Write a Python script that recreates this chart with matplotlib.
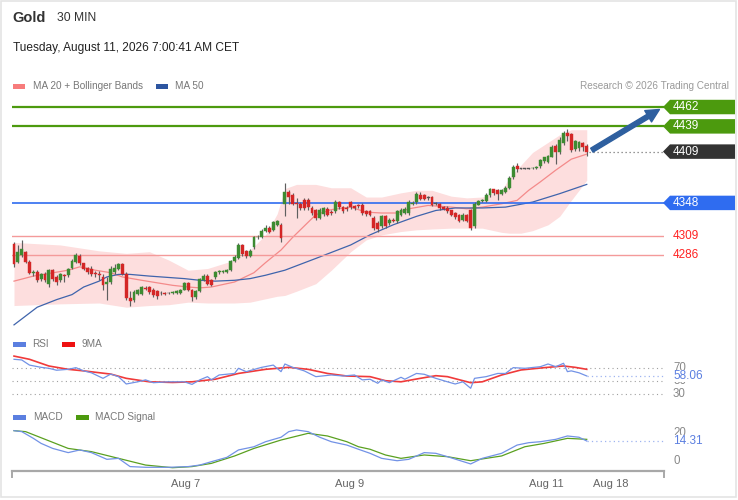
import matplotlib
matplotlib.use('Agg')
import matplotlib.pyplot as plt
from matplotlib.patches import Polygon, Rectangle, FancyArrowPatch
from matplotlib.lines import Line2D
from matplotlib.transforms import blended_transform_factory

plt.rcParams['font.family'] = ['Liberation Sans', 'DejaVu Sans']

# ---------------- data ----------------
opens = [4299,4278,4286,4290,4278,4265,4266,4257,4264,4252,4268,4260,4256,4262,4262,4271,4278,4285,4276,4271,
         4270,4265,4264,4260,4252,4254,4266,4270,4275,4264,4235,4232,4240,4240,4247,4248,4245,4243,4241,4241,
         4241,4241,4241,4241,4245,4253,4245,4236,4243,4256,4261,4256,4260,4266,4266,4266,4268,4279,4282,4298,
         4291,4285,4295,4307,4308,4315,4318,4316,4322,4322,4347,4361,4358,4348,4347,4352,4352,4342,4340,4330,
         4335,4341,4337,4338,4349,4343,4342,4349,4344,4345,4346,4338,4338,4330,4324,4320,4332,4324,4328,4326,
         4334,4336,4336,4347,4349,4358,4357,4354,4355,4347,4347,4343,4342,4339,4336,4334,4328,4334,4340,4320,
         4346,4350,4350,4357,4364,4363,4359,4361,4366,4379,4392,4389,4389,4389,4389,4389,4392,4398,4397,4403,
         4416,4408,4419,4431,4430,4412,4413,4419,4416]
highs = [4302,4298,4304,4291,4280,4268,4268,4265,4266,4270,4269,4262,4265,4264,4271,4281,4289,4287,4277,4272,
         4273,4267,4267,4264,4260,4273,4275,4277,4276,4266,4243,4244,4246,4249,4249,4249,4247,4245,4243,4242,
         4242,4243,4244,4246,4254,4254,4246,4245,4259,4263,4263,4257,4267,4268,4268,4270,4280,4286,4300,4299,
         4292,4293,4309,4310,4317,4322,4320,4327,4328,4324,4372,4363,4360,4354,4349,4354,4354,4344,4341,4342,
         4343,4343,4339,4351,4350,4344,4344,4350,4346,4347,4348,4339,4340,4332,4326,4334,4334,4330,4330,4340,
         4342,4343,4351,4350,4361,4361,4359,4356,4356,4349,4348,4344,4344,4340,4337,4335,4336,4335,4341,4349,
         4352,4353,4360,4366,4365,4365,4365,4368,4380,4393,4396,4390,4390,4390,4391,4392,4400,4403,4405,4417,
         4418,4426,4434,4436,4431,4423,4422,4421,4418]
lows = [4272,4276,4284,4276,4263,4261,4254,4255,4254,4248,4255,4250,4254,4254,4260,4269,4276,4274,4268,4264,
        4261,4260,4256,4244,4232,4252,4264,4268,4262,4233,4225,4230,4238,4238,4244,4240,4236,4234,4238,4239,
        4240,4240,4240,4240,4244,4243,4231,4234,4242,4255,4250,4249,4258,4264,4265,4265,4267,4278,4281,4285,
        4283,4284,4293,4305,4306,4313,4312,4315,4320,4302,4332,4347,4345,4330,4340,4340,4340,4334,4328,4329,
        4333,4332,4334,4336,4341,4336,4338,4341,4340,4342,4334,4333,4332,4316,4314,4318,4318,4322,4325,4324,
        4333,4335,4334,4346,4347,4351,4351,4351,4344,4345,4340,4339,4336,4332,4329,4325,4326,4325,4316,4318,
        4345,4349,4349,4355,4358,4352,4357,4360,4365,4377,4385,4388,4388,4388,4388,4388,4390,4396,4396,4402,
        4394,4406,4417,4422,4409,4410,4410,4410,4404]
closes = [4275,4290,4293,4278,4265,4266,4256,4263,4256,4268,4257,4254,4263,4261,4270,4279,4286,4276,4270,4266,
          4263,4264,4262,4250,4254,4269,4271,4275,4264,4235,4231,4242,4244,4248,4246,4242,4238,4237,4241,4240,
          4241,4242,4243,4245,4253,4245,4236,4243,4257,4261,4251,4250,4266,4267,4267,4268,4279,4284,4298,4287,
          4285,4291,4307,4308,4315,4318,4314,4325,4326,4306,4361,4355,4347,4347,4342,4342,4343,4336,4330,4340,
          4342,4334,4336,4349,4343,4338,4341,4343,4342,4344,4336,4335,4334,4318,4317,4332,4320,4328,4327,4338,
          4340,4341,4349,4348,4359,4353,4353,4354,4346,4347,4342,4341,4338,4334,4331,4327,4334,4327,4318,4347,
          4350,4351,4358,4364,4360,4359,4363,4366,4378,4391,4388,4389,4389,4389,4390,4391,4399,4402,4404,4415,
          4408,4423,4431,4428,4411,4422,4420,4414,4409]

ma20_bar = [0,5,14,17,21,25,28,33,37,41,45,48,51,57,62,65,69,72,74,78,82,87,91,95,99,102,107,113,117,121,126,130,133,136,140,144,148]
ma20_val = [4255,4261,4268,4272,4268,4265,4260,4256,4253,4250,4248,4247,4248,4254,4265,4277,4292,4307,4316,4334,4340,4343,
            4337,4336,4336,4341,4345,4343,4341,4343,4347,4351,4363,4373,4387,4400,4406]

ma50_bar = [0,6,11,15,18,22,24,27,30,35,44,48,52,57,61,65,70,74,78,87,92,98,104,109,114,121,127,134,141,148]
ma50_val = [4203,4224,4233,4239,4248,4255,4260,4263,4263,4261,4258,4256,4255,4256,4258,4262,4268,4275,4282,4298,4310,
            4322,4332,4339,4342,4342,4343,4349,4359,4370]

bb_bar = [0,12,22,29,35,40,45,50,57,61,65,68,70,73,78,82,87,91,95,100,104,108,113,117,121,126,128,131,134,138,141,144,148]
bb_upper = [4301,4298,4291,4288,4290,4280,4268,4270,4280,4292,4310,4335,4365,4370,4370,4366,4366,4355,4355,4360,4363,4363,
            4356,4354,4355,4363,4378,4393,4408,4420,4429,4435,4435]
bb_lower = [4226,4228,4229,4224,4226,4227,4230,4229,4229,4230,4234,4237,4238,4243,4252,4268,4290,4304,4310,4314,4316,4317,
            4318,4318,4318,4313,4312,4312,4315,4322,4332,4351,4375]

rsi_bar = [0,2,4,7,9,11,14,16,18,20,23,25,27,29,32,34,36,40,44,46,48,50,51,53,57,58,60,64,67,69,70,72,75,78,82,85,88,90,
           92,94,95,97,100,101,104,106,109,112,114,116,118,119,122,125,127,129,132,136,138,140,142,143,144,146,148]
rsi_val = [84,83,75,71.5,70,67,68.4,71,66,63,54.4,61,57,45.6,49,52,47.6,49,49,45,52,57,52,59.6,62,70,64.8,71.5,75,64.8,
           76.7,71.5,66,57,59.6,58,59.6,52,53,46.7,52,47.6,56,53,62,60.7,54.4,49,45.6,49,38.9,54.4,57,62,62,71,70,72.5,
           76.7,72.5,77.8,64.8,66,63,58.06]
rsi_ma_bar = [0,4,9,14,18,25,29,35,41,46,52,58,65,71,76,81,86,92,96,100,105,109,112,118,121,126,131,137,142,145,148]
rsi_ma_val = [89,84,73.6,68.4,66,61,54.4,49,48,49,53,62,68.4,71.5,68.4,62,58,57,50.7,49,54.4,58.5,57,47.6,49,59.6,67.4,
              71,73.6,71.5,68.4]

macd_bar = [0,2,5,7,10,14,17,20,24,27,30,34,40,45,48,51,55,58,62,65,69,71,73,76,79,82,86,89,92,95,99,102,106,109,112,
            118,121,126,130,133,136,140,143,146,148]
macd_val = [21.7,21,16.2,12.6,9,6,7.9,6,1.2,1.9,-4,-4.5,-4.5,-4,-2.9,-0.5,2.6,7.9,10.2,13.8,17,21,22.2,21,17,13.8,11.4,
            8.4,5.5,1.9,0.2,1.2,6,5.5,3.1,-2.1,1.9,5.5,11.4,13.1,13.8,15.5,17.9,17,14.31]
signal_bar = [0,3,14,20,27,34,41,46,51,57,62,69,76,81,86,89,92,96,100,106,112,118,126,132,137,143,148]
signal_val = [21.7,21,9,6.7,1.9,-2.9,-4.8,-4,-1.7,3.6,9,15,19.8,17.9,13.8,10.2,8.4,4.3,1.9,4.3,3.1,0.2,3.6,10.2,12.6,
              16.2,15.5]

resistances = [4462, 4439]
last_price = 4409
pivot = 4348
supports = [4309, 4286]
target = 4462
rsi_last = 58.06
macd_last = 14.31
rsi_levels = [70, 50, 30]
macd_labels = [20, 0]
date_ticks = [44.4, 86.8, 137.5, 154.3]
date_labels = ['Aug 7', 'Aug 9', 'Aug 11', 'Aug 18']

# ---------------- layout ----------------
W, H = 738, 500
fig = plt.figure(figsize=(W / 100, H / 100), dpi=100)
fig.patch.set_facecolor('white')

def fx(px):
    return px / W

def fy(py):
    return 1 - py / H

XL = (-0.517, 167.96)
n = len(closes)

def clean(ax):
    for s in ax.spines.values():
        s.set_visible(False)
    ax.set_xticks([])
    ax.set_yticks([])
    ax.set_xlim(*XL)
    ax.patch.set_alpha(0)

# price panel
ax = fig.add_axes([fx(12), fy(330), fx(652), 235 / H])
clean(ax)
ax.set_ylim(4196.9, 4476.3)

ax.fill_between(bb_bar, bb_lower, bb_upper, color='#fddede', lw=0, zorder=1)
ax.plot(ma20_bar, ma20_val, color='#f48a8a', lw=0.9, zorder=2)
ax.plot(ma50_bar, ma50_val, color='#3f64ac', lw=0.9, zorder=2)

for lv in resistances:
    ax.axhline(lv, color='#4c9a0e', lw=1.6, zorder=3)
ax.axhline(pivot, color='#2f6cf0', lw=1.2, zorder=3)
for lv in supports:
    ax.axhline(lv, color='#f49a9a', lw=1.0, zorder=3)

for i in range(n):
    o, h, l, c = opens[i], highs[i], lows[i], closes[i]
    ax.plot([i, i], [l, h], color='#5f5f5f', lw=0.85, zorder=4, solid_capstyle='butt')
    if c > o:
        col = '#3d8b32'
    elif c < o:
        col = '#d42626'
    else:
        col = '#555555'
    hgt = max(abs(c - o), 0.9)
    ax.bar(i, hgt, bottom=min(o, c) - (hgt - abs(c - o)) / 2, width=0.74, color=col,
           edgecolor=col, lw=0.3, zorder=5)

ax.plot([n - 0.5, XL[1]], [last_price, last_price], color='#777777', lw=0.9, ls=(0, (1, 2.2)), zorder=3)

arr = FancyArrowPatch((n - 0.3, last_price), (167.4, target - 1.2),
                      arrowstyle='simple,head_length=0.95,head_width=0.95,tail_width=0.33',
                      mutation_scale=10, color='#2e5f9f', zorder=6, clip_on=False)
ax.add_patch(arr)

bt = blended_transform_factory(ax.transAxes, ax.transData)
hh = 8.6
xa, xb, xc = (663 - 12) / 652, (670 - 12) / 652, (735 - 12) / 652
xt = (673 - 12) / 652

def tag(p, color, txt):
    poly = Polygon([(xa, p), (xb, p + hh), (xc, p + hh), (xc, p - hh), (xb, p - hh)], closed=True,
                   transform=bt, facecolor=color, edgecolor='none', clip_on=False, zorder=7)
    ax.add_patch(poly)
    ax.text(xt, p, txt, transform=bt, color='white', fontsize=8.5, va='center', ha='left', zorder=8,
            clip_on=False)

for lv in resistances:
    tag(lv, '#4c9a0e', str(lv))
tag(last_price, '#333333', str(last_price))
tag(pivot, '#2f6cf0', str(pivot))
for lv in supports:
    ax.text(xt, lv, str(lv), transform=bt, color='#ff2222', fontsize=8.5, va='center', ha='left', clip_on=False)

# RSI panel
ar = fig.add_axes([fx(12), fy(400), fx(652), 50 / H])
clean(ar)
ar.set_ylim(20.70, 98.46)
for lv in rsi_levels:
    ar.axhline(lv, color='#a0a0a0', lw=0.8, ls=(0, (1, 3)), zorder=1)
ar.plot(rsi_bar, rsi_val, color='#7292e6', lw=0.9, zorder=3)
ar.plot(rsi_ma_bar, rsi_ma_val, color='#f03a3a', lw=1.2, zorder=2)
ar.plot([rsi_bar[-1], XL[1]], [rsi_last, rsi_last], color='#9fb4f0', lw=0.9, ls=(0, (1, 2.5)))
bt_r = blended_transform_factory(ar.transAxes, ar.transData)
for lv in rsi_levels:
    ar.text(xt, lv, str(lv), transform=bt_r, color='#888888', fontsize=8.3, va='center', clip_on=False)
ar.text(xt, rsi_last, f'{rsi_last:.2f}', transform=bt_r, color='#5b7fe0', fontsize=8.5, va='center',
        clip_on=False, bbox=dict(facecolor='white', edgecolor='none', pad=0.3), zorder=5)

# MACD panel
am = fig.add_axes([fx(12), fy(471), fx(652), 46 / H])
for k, s in am.spines.items():
    s.set_visible(k == 'bottom')
am.spines['bottom'].set_color('#a8a8a8')
am.spines['bottom'].set_linewidth(1.6)
am.set_xlim(*XL)
am.set_ylim(-7.15, 25.75)
am.set_yticks([])
am.patch.set_alpha(0)
am.plot(signal_bar, signal_val, color='#5aa020', lw=0.9, zorder=2)
am.plot(macd_bar, macd_val, color='#7292e6', lw=0.9, zorder=3)
am.plot([macd_bar[-1], XL[1]], [macd_last, macd_last], color='#9fb4f0', lw=0.9, ls=(0, (1, 2.5)))
am.set_xticks(date_ticks)
am.set_xticklabels(date_labels)
am.tick_params(axis='x', length=0, pad=6, labelsize=8, labelcolor='#666666')
bt_m = blended_transform_factory(am.transAxes, am.transData)
for lv in macd_labels:
    am.text(xt, lv, str(lv), transform=bt_m, color='#888888', fontsize=8.3, va='center', clip_on=False)
am.text(xt, macd_last, f'{macd_last:.2f}', transform=bt_m, color='#5b7fe0', fontsize=8.5, va='center',
        clip_on=False, bbox=dict(facecolor='white', edgecolor='none', pad=0.3), zorder=5)

for px in (12.5, 663.5):
    fig.add_artist(Line2D([fx(px), fx(px)], [fy(471), fy(477)], color='#a8a8a8', lw=1.4))

# ---------------- texts & legends ----------------
fig.text(fx(12), fy(18), 'Gold', fontsize=10.5, fontweight='bold', color='#333333', va='center')
fig.text(fx(57), fy(18), '30 MIN', fontsize=8.7, color='#333333', va='center')
fig.text(fx(13), fy(48), 'Tuesday, August 11, 2026 7:00:41 AM CET', fontsize=8.6, color='#222222', va='center')

def legend_patch(x0, x1, yc, color):
    fig.add_artist(Rectangle((fx(x0), fy(yc + 2.5)), fx(x1 - x0), 5 / H, facecolor=color, edgecolor='none'))

legend_patch(13, 25, 86, '#f77c7c')
fig.text(fx(33), fy(86), 'MA 20 + Bollinger Bands', fontsize=7.2, color='#777777', va='center')
legend_patch(156, 168, 86, '#2d55a0')
fig.text(fx(175), fy(86), 'MA 50', fontsize=7.2, color='#777777', va='center')
fig.text(fx(729), fy(86), 'Research \u00a9 2026 Trading Central', fontsize=7.2, color='#9a9a9a', va='center',
         ha='right')

legend_patch(13, 26, 344, '#5b7fe0')
fig.text(fx(32), fy(344), 'RSI', fontsize=7.2, color='#777777', va='center')
legend_patch(62, 75, 344, '#ee1111')
fig.text(fx(82), fy(344), '9MA', fontsize=7.2, color='#777777', va='center')

legend_patch(13, 26, 417, '#5b7fe0')
fig.text(fx(33), fy(417), 'MACD', fontsize=7.2, color='#777777', va='center')
legend_patch(76, 89, 417, '#4c9a0e')
fig.text(fx(95), fy(417), 'MACD Signal', fontsize=7.2, color='#777777', va='center')

# frame
fig.add_artist(Rectangle((fx(1), fy(497)), fx(735), 496 / H, facecolor='none', edgecolor='#e4e4e4', lw=1.2))

fig.savefig('out.png', dpi=100)
